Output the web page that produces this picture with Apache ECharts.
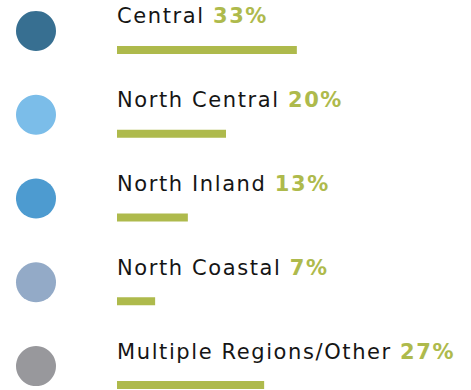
<!DOCTYPE html>
<html>
<head>
<meta charset="utf-8">
<script src="https://cdn.jsdelivr.net/npm/echarts@6/dist/echarts.min.js"></script>
<style>
  html, body { margin: 0; padding: 0; background: #ffffff; }
  #chart { width: 471px; height: 390px; letter-spacing: 1.6px; }
</style>
</head>
<body>
<div id="chart"></div>
<script>
// Share of responses by region
const regions = ['Central', 'North Central', 'North Inland', 'North Coastal', 'Multiple Regions/Other'];
const shares = [33, 20, 13, 7, 27];
const dotColors = ['#376f91', '#7bbde9', '#4d9bd0', '#93aac7', '#98989c'];
const dotSlot = [''];

const LETTER_SPACING = 1.6;
const FONT = '"DejaVu Sans", Verdana, sans-serif';

// Text is drawn with tracking (CSS letter-spacing on the SVG text), so the
// width measurement used for rich-text layout has to include it too.
const measureCtx = document.createElement('canvas').getContext('2d');
echarts.setPlatformAPI({
  measureText(text, font) {
    measureCtx.font = font || '12px sans-serif';
    measureCtx.letterSpacing = LETTER_SPACING + 'px';
    return measureCtx.measureText(text);
  }
});

const chart = echarts.init(document.getElementById('chart'), null, { renderer: 'svg' });

const hiddenAxis = {
  axisLine: { show: false },
  axisTick: { show: false },
  axisLabel: { show: false },
  splitLine: { show: false }
};

// The last row's band runs past the bottom edge of the canvas.
const ROW_TOP = 8;
const ROWS_HEIGHT = 419;

chart.setOption({
  animation: false,
  backgroundColor: '#ffffff',
  grid: [
    { left: 117, right: 27, top: ROW_TOP, height: ROWS_HEIGHT, outerBoundsMode: 'none', containLabel: false },
    { left: 0, width: 72, top: ROW_TOP, height: ROWS_HEIGHT, outerBoundsMode: 'none', containLabel: false }
  ],
  xAxis: [
    Object.assign({ type: 'value', min: 0, max: 60, gridIndex: 0 }, hiddenAxis),
    Object.assign({ type: 'category', data: dotSlot, gridIndex: 1 }, hiddenAxis)
  ],
  yAxis: [
    Object.assign({ type: 'category', data: regions, inverse: true, gridIndex: 0 }, hiddenAxis),
    Object.assign({ type: 'category', data: regions, inverse: true, gridIndex: 1 }, hiddenAxis)
  ],
  series: [
    {
      type: 'bar',
      xAxisIndex: 0,
      yAxisIndex: 0,
      data: shares,
      barWidth: 8,
      itemStyle: { color: '#aeba4c' },
      label: {
        show: true,
        position: [0, -29.5],
        align: 'left',
        verticalAlign: 'middle',
        fontFamily: FONT,
        fontSize: 21,
        color: '#151515',
        formatter: p => `{n|${regions[p.dataIndex]}} {v|${shares[p.dataIndex]}%}`,
        rich: {
          n: { fontFamily: FONT, fontSize: 21, color: '#151515' },
          v: { fontFamily: FONT, fontSize: 21, fontWeight: 'bold', color: '#aeba4c' }
        }
      }
    },
    {
      type: 'scatter',
      xAxisIndex: 1,
      yAxisIndex: 1,
      symbol: 'circle',
      symbolSize: 40,
      symbolOffset: [0, -19],
      data: regions.map((r, i) => ({ value: [0, i], itemStyle: { color: dotColors[i], opacity: 1 } }))
    }
  ]
});
</script>
</body>
</html>
